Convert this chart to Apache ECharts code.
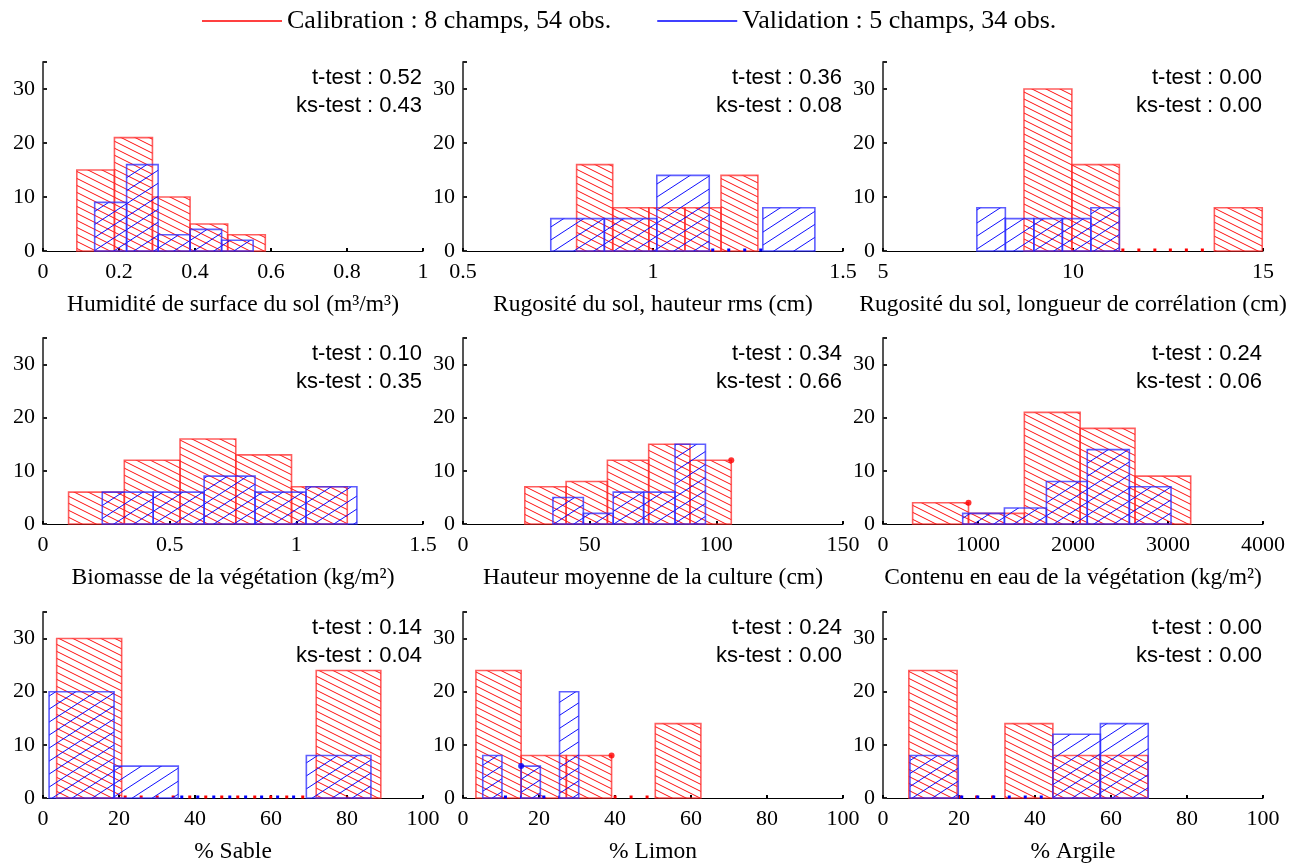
<!DOCTYPE html>
<html>
<head>
<meta charset="utf-8">
<script src="https://cdn.jsdelivr.net/npm/echarts@6/dist/echarts.min.js"></script>
<style>
html,body{margin:0;padding:0;background:#fff;}
#chart{width:1298px;height:865px;}
</style>
</head>
<body>
<div id="chart"></div>
<script>
// ---------- DATA ----------
const calName = 'Calibration : 8 champs, 54 obs.';
const valName = 'Validation : 5 champs, 34 obs.';

const xNames = [
  'Humidité de surface du sol (m³/m³)',
  'Rugosité du sol, hauteur rms (cm)',
  'Rugosité du sol, longueur de corrélation (cm)',
  'Biomasse de la végétation (kg/m²)',
  'Hauteur moyenne de la culture (cm)',
  'Contenu en eau de la végétation (kg/m²)',
  '% Sable',
  '% Limon',
  '% Argile'
];
const xMins = [0, 0.5, 5, 0, 0, 0, 0, 0, 0];
const xMaxs = [1, 1.5, 15, 1.5, 150, 4000, 100, 100, 100];
const xIntervals = [0.2, 0.5, 5, 0.5, 50, 1000, 20, 20, 20];

const tTest  = ['0.52', '0.36', '0.00', '0.10', '0.34', '0.24', '0.14', '0.24', '0.00'];
const ksTest = ['0.43', '0.08', '0.00', '0.35', '0.66', '0.06', '0.04', '0.00', '0.00'];

// Calibration histograms: bin edges and counts
const calEdges1 = [0.089, 0.188, 0.288, 0.387, 0.486, 0.585];
const calCounts1 = [15, 21, 10, 5, 3];
const calEdges2 = [0.799, 0.894, 0.989, 1.084, 1.179, 1.276];
const calCounts2 = [16, 8, 8, 8, 14];
const calEdges3 = [8.71, 9.97, 11.22, 12.47, 13.72, 14.98];
const calCounts3 = [30, 16, 0, 0, 8];
const calEdges4 = [0.101, 0.321, 0.541, 0.761, 0.981, 1.201];
const calCounts4 = [6, 12, 16, 13, 7];
const calEdges5 = [24.4, 40.7, 57.0, 73.3, 89.6, 105.9];
const calCounts5 = [7, 8, 12, 15, 12];
const calEdges6 = [312, 900, 1488, 2075, 2653, 3239];
const calCounts6 = [4, 2, 21, 18, 9];
const calEdges7 = [3.6, 20.7, 37.7, 54.8, 71.9, 88.9];
const calCounts7 = [30, 0, 0, 0, 24];
const calEdges8 = [3.4, 15.3, 27.2, 39.1, 50.6, 62.6];
const calCounts8 = [24, 8, 8, 0, 14];
const calEdges9 = [6.8, 19.5, 32.1, 44.7, 57.1, 69.7];
const calCounts9 = [24, 0, 14, 8, 8];

// Validation histograms
const valEdges1 = [0.136, 0.220, 0.303, 0.387, 0.470, 0.553];
const valCounts1 = [9, 16, 3, 4, 2];
const valEdges2 = [0.731, 0.872, 1.010, 1.148, 1.289, 1.426];
const valCounts2 = [6, 6, 14, 0, 8];
const valEdges3 = [7.47, 8.22, 8.97, 9.72, 10.47, 11.22];
const valCounts3 = [8, 6, 6, 6, 8];
const valEdges4 = [0.234, 0.435, 0.636, 0.837, 1.038, 1.239];
const valCounts4 = [6, 6, 9, 6, 7];
const valEdges5 = [35.5, 47.5, 59.3, 71.3, 83.7, 95.7];
const valCounts5 = [5, 2, 6, 6, 15];
const valEdges6 = [839, 1278, 1720, 2150, 2593, 3032];
const valCounts6 = [2, 3, 8, 14, 7];
const valEdges7 = [1.6, 18.7, 35.6, 52.4, 69.3, 86.3];
const valCounts7 = [20, 6, 0, 0, 8];
const valEdges8 = [5.2, 10.25, 15.3, 20.35, 25.4, 30.45];
const valCounts8 = [8, 0, 6, 0, 20];
const valEdges9 = [7.1, 19.8, 32.3, 44.7, 57.2, 69.8];
const valCounts9 = [8, 0, 0, 12, 14];

// Stray marker dots visible in the original figure: [panel index, x, y]
const calDots = [[4, 105.9, 12], [5, 900, 4], [7, 39.1, 8]];
const valDots = [[7, 15.3, 6]];

const calEdges = [calEdges1, calEdges2, calEdges3, calEdges4, calEdges5, calEdges6, calEdges7, calEdges8, calEdges9];
const calCounts = [calCounts1, calCounts2, calCounts3, calCounts4, calCounts5, calCounts6, calCounts7, calCounts8, calCounts9];
const valEdges = [valEdges1, valEdges2, valEdges3, valEdges4, valEdges5, valEdges6, valEdges7, valEdges8, valEdges9];
const valCounts = [valCounts1, valCounts2, valCounts3, valCounts4, valCounts5, valCounts6, valCounts7, valCounts8, valCounts9];

// ---------- STYLE / LAYOUT ----------
const SERIF = 'Liberation Serif';
const colLefts = [43, 463, 883];
const rowTops = [62, 338, 612];
const rowHeights = [189, 186, 186];
const gridW = 380;

function hatch(dir, w, h, color) {
  const c = document.createElement('canvas');
  c.width = w; c.height = h;
  const ctx = c.getContext('2d');
  ctx.strokeStyle = color;
  ctx.lineWidth = 1;
  for (let k = -1; k <= 1; k++) {
    ctx.beginPath();
    if (dir === '\\') {
      ctx.moveTo(-w, k * h - h);
      ctx.lineTo(2 * w, k * h + 2 * h);
    } else {
      ctx.moveTo(-w, k * h + 2 * h);
      ctx.lineTo(2 * w, k * h - h);
    }
    ctx.stroke();
  }
  return c;
}
const redPattern = { image: hatch('\\', 14, 7, 'rgba(255,0,0,0.95)'), repeat: 'repeat' };
const bluePattern = { image: hatch('/', 20, 13, 'rgba(0,0,255,0.95)'), repeat: 'repeat' };

function makeRender(stroke, pattern, dotColor) {
  return function (params, api) {
    const x0 = api.value(0), x1 = api.value(1), h = api.value(2);
    const p0 = api.coord([x0, 0]);
    const p1 = api.coord([x1, h]);
    if (h === 0) {
      return {
        type: 'line',
        shape: { x1: p0[0] + 2, y1: p0[1] - 1, x2: p1[0], y2: p0[1] - 1 },
        style: { stroke: dotColor, lineWidth: 3, lineDash: [3, 13] }
      };
    }
    return {
      type: 'rect',
      shape: { x: p0[0], y: p1[1], width: p1[0] - p0[0], height: p0[1] - p1[1] },
      style: { fill: pattern, stroke: stroke, lineWidth: 1.6 }
    };
  };
}

const grids = [], xAxes = [], yAxes = [], series = [], graphics = [];
for (let i = 0; i < 9; i++) {
  const r = Math.floor(i / 3), c = i % 3;
  grids.push({ left: colLefts[c], top: rowTops[r], width: gridW, height: rowHeights[r] });
  xAxes.push({
    type: 'value', gridIndex: i, min: xMins[i], max: xMaxs[i], interval: xIntervals[i],
    name: xNames[i], nameLocation: 'middle', nameGap: 42,
    nameTextStyle: { fontFamily: SERIF, fontSize: 23.5, color: '#000' },
    axisLine: { onZero: false, lineStyle: { color: '#000', width: 1 } },
    axisTick: { inside: true, length: 3, lineStyle: { color: '#000', width: 2 } },
    axisLabel: { fontFamily: SERIF, fontSize: 22, color: '#000', margin: 10, formatter: v => String(v) },
    splitLine: { show: false }
  });
  yAxes.push({
    type: 'value', gridIndex: i, min: 0, max: 35, interval: 10,
    axisLine: { show: true, lineStyle: { color: '#555', width: 2 } },
    axisTick: { show: true, inside: true, length: 4, lineStyle: { color: '#222', width: 2 } },
    axisLabel: { fontFamily: SERIF, fontSize: 22, color: '#000', margin: 8, formatter: v => (v === 35 ? '' : String(v)) },
    splitLine: { show: false }
  });
  series.push({
    type: 'custom', name: calName, xAxisIndex: i, yAxisIndex: i,
    itemStyle: { color: '#ff0000' },
    encode: { x: [0, 1], y: 2 },
    renderItem: makeRender('rgba(255,40,40,0.75)', redPattern, '#ff0000'),
    data: calCounts[i].map((v, k) => [calEdges[i][k], calEdges[i][k + 1], v]),
    silent: true
  });
  series.push({
    type: 'custom', name: valName, xAxisIndex: i, yAxisIndex: i,
    itemStyle: { color: '#0000ff' },
    encode: { x: [0, 1], y: 2 },
    renderItem: makeRender('rgba(40,40,255,0.75)', bluePattern, '#0000ff'),
    data: valCounts[i].map((v, k) => [valEdges[i][k], valEdges[i][k + 1], v]),
    silent: true
  });
  const cd = calDots.filter(d => d[0] === i).map(d => [d[1], d[2]]);
  if (cd.length) series.push({
    type: 'scatter', xAxisIndex: i, yAxisIndex: i, data: cd, symbolSize: 6,
    itemStyle: { color: '#ff0000' }, silent: true
  });
  const vd = valDots.filter(d => d[0] === i).map(d => [d[1], d[2]]);
  if (vd.length) series.push({
    type: 'scatter', xAxisIndex: i, yAxisIndex: i, data: vd, symbolSize: 6,
    itemStyle: { color: '#0000ff' }, silent: true
  });
  const rx = colLefts[c] + gridW - 1;
  graphics.push({
    type: 'text', x: rx, y: rowTops[r] + 16,
    style: { text: 't-test : ' + tTest[i], font: '22px "Liberation Sans"', fill: '#000', align: 'right', verticalAlign: 'middle' }
  });
  graphics.push({
    type: 'text', x: rx, y: rowTops[r] + 44,
    style: { text: 'ks-test : ' + ksTest[i], font: '22px "Liberation Sans"', fill: '#000', align: 'right', verticalAlign: 'middle' }
  });
}

const chart = echarts.init(document.getElementById('chart'), null, { renderer: 'canvas' });
chart.setOption({
  animation: false,
  backgroundColor: '#fff',
  legend: {
    data: [calName, valName],
    left: 197, top: 3,
    icon: 'rect', itemWidth: 80, itemHeight: 1.5, itemGap: 46,
    selectedMode: false,
    textStyle: { fontFamily: SERIF, fontSize: 26, color: '#000' }
  },
  grid: grids,
  xAxis: xAxes,
  yAxis: yAxes,
  series: series,
  graphic: graphics
});
</script>
</body>
</html>
